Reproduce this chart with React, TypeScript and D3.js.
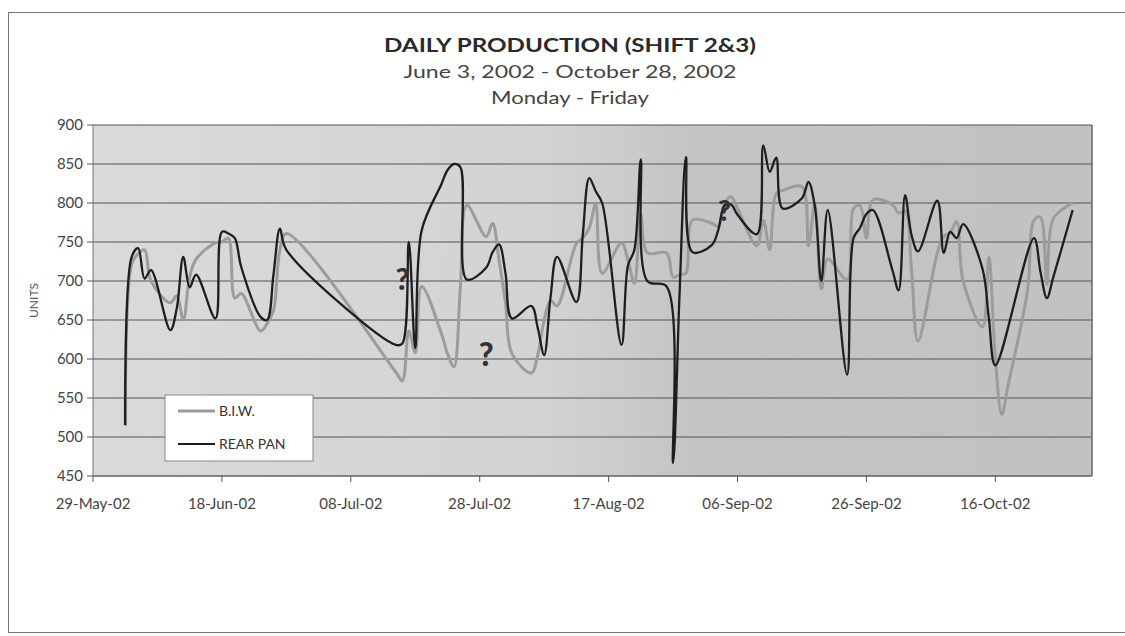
import React from "react";
import * as d3 from "d3";

const dates: string[] = [
  "2002-06-03","2002-06-04","2002-06-05","2002-06-06","2002-06-07",
  "2002-06-10","2002-06-11","2002-06-12","2002-06-13","2002-06-14",
  "2002-06-17","2002-06-18","2002-06-19","2002-06-20","2002-06-21",
  "2002-06-24","2002-06-25","2002-06-26","2002-06-27","2002-06-28",
  "2002-07-15","2002-07-16","2002-07-17","2002-07-18","2002-07-19",
  "2002-07-22","2002-07-23","2002-07-24","2002-07-25","2002-07-26",
  "2002-07-29","2002-07-30","2002-07-31","2002-08-01","2002-08-02",
  "2002-08-05","2002-08-06","2002-08-07","2002-08-08","2002-08-09",
  "2002-08-12","2002-08-13","2002-08-14","2002-08-15","2002-08-16",
  "2002-08-19","2002-08-20","2002-08-21","2002-08-22","2002-08-23",
  "2002-08-26","2002-08-27","2002-08-28","2002-08-29","2002-08-30",
  "2002-09-02","2002-09-03","2002-09-04","2002-09-05","2002-09-06",
  "2002-09-09","2002-09-10","2002-09-11","2002-09-12","2002-09-13",
  "2002-09-16","2002-09-17","2002-09-18","2002-09-19","2002-09-20",
  "2002-09-23","2002-09-24","2002-09-25","2002-09-26","2002-09-27",
  "2002-09-30","2002-10-01","2002-10-02","2002-10-03","2002-10-04",
  "2002-10-07","2002-10-08","2002-10-09","2002-10-10","2002-10-11",
  "2002-10-14","2002-10-15","2002-10-16","2002-10-17","2002-10-18",
  "2002-10-21","2002-10-22","2002-10-23","2002-10-24","2002-10-25",
  "2002-10-28",
];

const biw: (number | null)[] = [
  515, 722, 735, 740, 700,
  672, 681, 650, 705, 728,
  749, 750, 755, 678, 684,
  636, 645, 662, 740, 761,
  583, 572, 636, 608, 693,
  634, 607, 590, 693, 797,
  757, 774, 727, 672, 607,
  582, 605, 650, 675, 668,
  748, 755, 768, 799, 710,
  749, 727, 697, 785, 736,
  736, 705, 708, 710, 778,
  774, 770, 800, 808, 793,
  745, 778, 740, 812, 816,
  821, 745, 800, 690, 728,
  702, 793, 797, 755, 804,
  798, 787, 790, 714, 623,
  736, 757, 762, 776, 700,
  641, 730, 601, 529, 567,
  688, 778, 782, 696, 780,
  800,
];

const rearPan: (number | null)[] = [
  515, 731, 742, 703, 714,
  637, 665, 731, 692, 708,
  652, 763, 761, 755, 718,
  654, 650, 708, 767, 740,
  618, 620, 750, 614, 765,
  823, 842, 850, 846, 702,
  717, 737, 747, 710, 652,
  668, 640, 605, 680, 731,
  673, 760, 832, 815, 800,
  618, 720, 740, 856, 700,
  693, 467, 682, 859, 737,
  746, 765, 797, 798, 785,
  760, 874, 840, 858, 793,
  806, 827, 796, 700, 791,
  580, 755, 768, 786, 791,
  715, 688, 810, 759, 738,
  803, 736, 763, 755, 773,
  716, 652, 592, null, null,
  null, 755, 712, 678, 705,
  791,
];

const seriesNames = ["B.I.W.", "REAR PAN"];
const yTicks = [450, 500, 550, 600, 650, 700, 750, 800, 850, 900];
const titleLines = ["DAILY PRODUCTION (SHIFT 2&3)", "June 3, 2002 - October 28, 2002", "Monday - Friday"];
const notes = [
  { date: "2002-07-16", value: 688, size: 30 },
  { date: "2002-07-29", value: 591, size: 32 },
  { date: "2002-09-04", value: 777, size: 28 },
];

const parse = d3.timeParse("%Y-%m-%d");
const fmt = d3.timeFormat("%d-%b-%y");

export default function App() {
  const W = 1125, H = 636;
  const left = 93, right = 1092, top = 125, bottom = 476;
  const x = d3.scaleTime()
    .domain([new Date(2002, 4, 29), new Date(2002, 9, 31)])
    .range([left, right]);
  const y = d3.scaleLinear().domain([450, 900]).range([bottom, top]);
  const xTicks: Date[] = [];
  for (let i = 0; i < 8; i++) xTicks.push(d3.timeDay.offset(new Date(2002, 4, 29), i * 20));

  const mk = (vals: (number | null)[]) =>
    dates.map((d, i) => ({ d: parse(d) as Date, v: vals[i] })).filter((p) => p.v != null) as { d: Date; v: number }[];
  const line = d3.line<{ d: Date; v: number }>()
    .x((p) => x(p.d))
    .y((p) => y(p.v))
    .curve(d3.curveCatmullRom.alpha(0.5));

  const font = "Lato, 'Open Sans', sans-serif";
  const cx = 570;

  return (
    <svg width={W} height={H} style={{ position: "absolute", left: 0, top: 0, background: "#fff" }} fontFamily={font}>
      <defs>
        <linearGradient id="bg" x1="0" x2="1" y1="0" y2="0">
          <stop offset="0%" stopColor="#dadada" />
          <stop offset="45%" stopColor="#d3d3d3" />
          <stop offset="60%" stopColor="#c4c4c4" />
          <stop offset="100%" stopColor="#c2c2c2" />
        </linearGradient>
      </defs>
      <rect x={8.5} y={12.5} width={1125} height={620} fill="#fff" stroke="#777" strokeWidth={1} />
      {/* titles */}
      <text x={cx} y={52} textAnchor="middle" fontSize={18} fontWeight="bold" fill="#2a2a2a" textLength={372} lengthAdjust="spacingAndGlyphs">{titleLines[0]}</text>
      <text x={cx} y={78} textAnchor="middle" fontSize={17} fill="#444" textLength={333} lengthAdjust="spacingAndGlyphs">{titleLines[1]}</text>
      <text x={cx} y={104} textAnchor="middle" fontSize={17} fill="#444" textLength={158} lengthAdjust="spacingAndGlyphs">{titleLines[2]}</text>
      {/* plot background */}
      <rect x={left} y={top} width={right - left} height={bottom - top} fill="url(#bg)" />
      {yTicks.map((t) => (
        <line key={t} x1={left} x2={right} y1={y(t)} y2={y(t)} stroke="#555" strokeWidth={1} />
      ))}
      <line x1={right} x2={right} y1={top} y2={bottom} stroke="#666" strokeWidth={1.5} />
      <line x1={left} x2={left} y1={top} y2={bottom} stroke="#777" strokeWidth={1} />
      <line x1={left} x2={right} y1={bottom} y2={bottom} stroke="#666" strokeWidth={1} />
      {/* y axis */}
      {yTicks.map((t) => (
        <g key={"yt" + t}>
          <line x1={left - 6} x2={left} y1={y(t)} y2={y(t)} stroke="#555" />
          <text x={left - 10} y={y(t) + 5} textAnchor="end" fontSize={15} fill="#444">{t}</text>
        </g>
      ))}
      <text transform={`translate(38,${(top + bottom) / 2}) rotate(-90)`} textAnchor="middle" fontSize={12} fill="#555">UNITS</text>
      {/* x axis */}
      {xTicks.map((t, i) => (
        <g key={"xt" + i}>
          <line x1={x(t)} x2={x(t)} y1={bottom} y2={bottom + 6} stroke="#555" />
          <text x={x(t)} y={bottom + 33} textAnchor="middle" fontSize={15} fill="#444">{fmt(t)}</text>
        </g>
      ))}
      {/* series */}
      <path d={line(mk(biw)) || ""} fill="none" stroke="#9c9c9c" strokeWidth={3} strokeLinejoin="round" />
      <path d={line(mk(rearPan)) || ""} fill="none" stroke="#1e1e1e" strokeWidth={2.3} strokeLinejoin="round" />
      {/* annotations */}
      {notes.map((n, i) => (
        <text key={"n" + i} x={x(parse(n.date) as Date)} y={y(n.value)} textAnchor="middle" fontSize={n.size} fontWeight="900" fill="#333">?</text>
      ))}
      {/* legend */}
      <rect x={165} y={395} width={148} height={66} fill="#fff" stroke="#888" />
      <line x1={178} x2={215} y1={411} y2={411} stroke="#9c9c9c" strokeWidth={3} />
      <text x={219} y={416} fontSize={14} fill="#333">{seriesNames[0]}</text>
      <line x1={178} x2={215} y1={444} y2={444} stroke="#1e1e1e" strokeWidth={2} />
      <text x={219} y={449} fontSize={14} fill="#333">{seriesNames[1]}</text>
    </svg>
  );
}
